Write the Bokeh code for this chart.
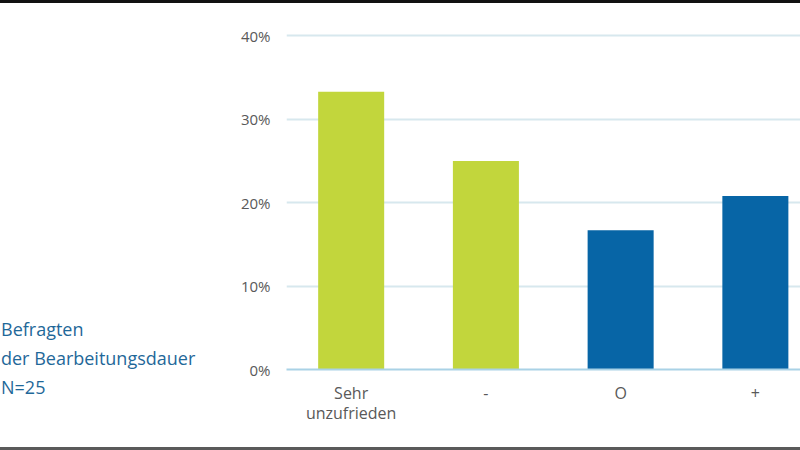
from bokeh.plotting import figure
from bokeh.models import Range1d, FixedTicker, NumeralTickFormatter, Spacer, Div
from bokeh.layouts import column, row
from bokeh.embed import file_html
from bokeh.resources import INLINE

# Data
categories = ["Sehr\nunzufrieden", "-", "O", "+"]
shares = [0.333, 0.25, 0.167, 0.208]
bar_colors = ["#c2d63c", "#c2d63c", "#0765a6", "#0765a6"]
y_ticks = [0, 0.1, 0.2, 0.3, 0.4]
side_lines = ["Befragten", "der Bearbeitungsdauer", "N=25"]

FONT = "Open Sans"
x_pos = [i + 0.5 for i in range(len(categories))]

SIDE_W = 200

p = figure(width=800 - SIDE_W, height=444, output_backend="svg", toolbar_location=None,
           x_range=Range1d(0.02, 3.835), y_range=Range1d(0, 0.41),
           min_border_left=286 - SIDE_W, min_border_right=0, min_border_top=24,
           min_border_bottom=78)
p.outline_line_color = None
p.background_fill_color = "white"
p.border_fill_color = "white"

p.vbar(x=x_pos, top=shares, width=0.49, color=bar_colors, line_color=None)

# axes
p.xaxis.ticker = FixedTicker(ticks=x_pos)
p.xaxis.major_label_overrides = {x: c for x, c in zip(x_pos, categories)}
p.xaxis.axis_line_color = "#a9d2e6"
p.xaxis.axis_line_width = 2
p.xaxis.major_tick_line_color = None
p.xaxis.minor_tick_line_color = None
p.xaxis.major_label_standoff = 6
p.xaxis.major_label_text_font = FONT
p.xaxis.major_label_text_font_size = "16px"
p.xaxis.major_label_text_line_height = 0.95
p.xaxis.major_label_text_color = "#595959"

p.yaxis.ticker = FixedTicker(ticks=y_ticks)
p.yaxis.formatter = NumeralTickFormatter(format="0%")
p.yaxis.axis_line_color = None
p.yaxis.major_tick_line_color = None
p.yaxis.minor_tick_line_color = None
p.yaxis.major_label_standoff = 10
p.yaxis.major_label_text_font = FONT
p.yaxis.major_label_text_font_size = "15px"
p.yaxis.major_label_text_color = "#595959"

p.xgrid.grid_line_color = None
p.ygrid.ticker = FixedTicker(ticks=y_ticks)
p.ygrid.grid_line_color = "#d7e8ee"
p.ygrid.grid_line_width = 2

side_html = (
    '<div style="padding-top:312px; padding-left:1px; line-height:29px; '
    "font-family:'Open Sans'; font-size:18px; color:#1f6899; white-space:nowrap;\">"
    + "<br>".join(side_lines) + "</div>"
)
side = Div(text=side_html, width=SIDE_W, height=444, styles={"margin": "0", "padding": "0"})

top_band = Spacer(width=800, height=3, styles={"background-color": "#111111"})
bottom_band = Spacer(width=800, height=3, styles={"background-color": "#5a5a5a"})
layout = column(top_band, row(side, p, spacing=0), bottom_band, spacing=0)

open("out.html", "w").write(file_html(layout, INLINE))
